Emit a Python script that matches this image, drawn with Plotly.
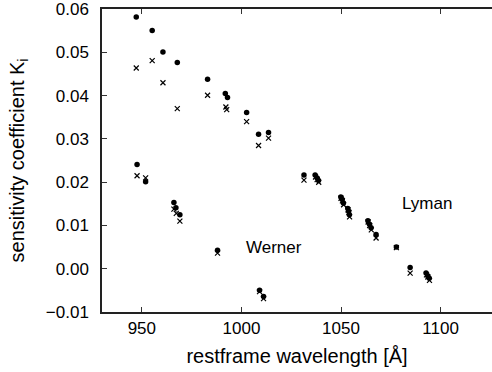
import plotly.graph_objects as go

# filled circles
wl_dot = [947.2, 955.2, 960.6, 967.8, 983.0, 991.9, 993.0, 1002.6, 1008.6, 1013.6,
          1031.4, 1037.0, 1038.0, 1038.7, 1049.9, 1050.6, 1051.2, 1053.4, 1053.8, 1054.2,
          1063.5, 1064.3, 1065.1, 1067.6, 1077.8, 1084.7, 1092.7, 1093.5, 1094.3,
          947.6, 951.9, 966.1, 967.1, 969.1, 988.0, 1009.1, 1011.1]
k_dot = [0.0582, 0.0551, 0.0501, 0.0477, 0.0438, 0.0405, 0.0396, 0.0361, 0.0311, 0.0315,
         0.0217, 0.0217, 0.0210, 0.0204, 0.0166, 0.0160, 0.0152, 0.0139, 0.0133, 0.0125,
         0.0111, 0.0103, 0.0095, 0.0079, 0.0050, 0.0003, -0.0010, -0.0016, -0.0022,
         0.0241, 0.0201, 0.0153, 0.0141, 0.0125, 0.0043, -0.0050, -0.0064]

# crosses
wl_x = [947.2, 955.2, 960.6, 967.8, 983.0, 992.2, 992.6, 1002.6, 1008.6, 1013.6,
        1031.4, 1037.2, 1038.0, 1038.8, 1050.0, 1050.7, 1051.3, 1053.5, 1054.0, 1054.3,
        1063.6, 1064.4, 1065.2, 1067.6, 1077.8, 1084.7, 1092.9, 1093.6, 1094.4,
        947.6, 951.9, 966.1, 967.3, 969.1, 988.0, 1009.1, 1011.1]
k_x = [0.0464, 0.0481, 0.0430, 0.0370, 0.0401, 0.0374, 0.0368, 0.0340, 0.0285, 0.0302,
       0.0205, 0.0212, 0.0206, 0.0200, 0.0163, 0.0157, 0.0148, 0.0136, 0.0130, 0.0120,
       0.0108, 0.0100, 0.0090, 0.0071, 0.0049, -0.0010, -0.0014, -0.0019, -0.0027,
       0.0215, 0.0210, 0.0138, 0.0128, 0.0110, 0.0036, -0.0053, -0.0069]

x_ticks = [950, 1000, 1050, 1100]
y_ticks = [-0.01, 0.00, 0.01, 0.02, 0.03, 0.04, 0.05, 0.06]

FONT = "Liberation Sans, Arial, sans-serif"

fig = go.Figure()
fig.add_trace(go.Scatter(x=wl_x, y=k_x, mode="markers",
                         marker=dict(symbol="x-thin", size=5, color="black",
                                     line=dict(color="black", width=1.2))))
fig.add_trace(go.Scatter(x=wl_dot, y=k_dot, mode="markers",
                         marker=dict(symbol="circle", size=5.5, color="black")))

fig.add_annotation(x=1093.2, y=0.0151, text="Lyman", showarrow=False,
                   font=dict(size=17, color="black", family=FONT))
fig.add_annotation(x=1016.5, y=0.0050, text="Werner", showarrow=False,
                   font=dict(size=17, color="black", family=FONT))

fig.update_layout(
    width=492, height=372,
    margin=dict(l=102, r=0, t=9, b=60),
    paper_bgcolor="white", plot_bgcolor="white",
    showlegend=False,
    font=dict(family=FONT, size=17, color="black"),
    xaxis=dict(range=[930, 1125.8], tickvals=x_ticks, ticks="inside", ticklen=5,
               tickcolor="#333", showline=True, linecolor="#222", linewidth=1.5,
               mirror="ticks", showgrid=False, zeroline=False,
               title=dict(text="restframe wavelength [Å]", standoff=12)),
    yaxis=dict(range=[-0.01, 0.06005], tickvals=y_ticks, tickformat=".2f",
               ticks="inside", ticklen=5, tickcolor="#333", showline=True,
               linecolor="#222", linewidth=1.5, mirror=False, showgrid=False,
               zeroline=False, ticklabelstandoff=8,
               title=dict(text="sensitivity coefficient K<sub>i</sub>", standoff=16)),
)

fig.write_html("out.html")
